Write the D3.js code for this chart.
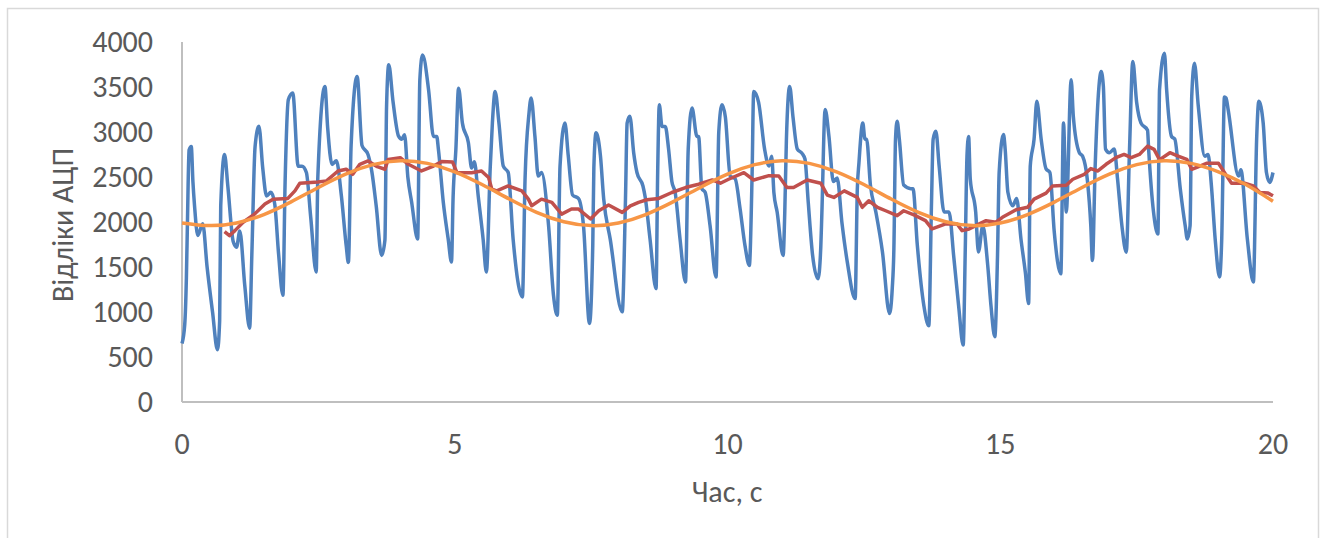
<!DOCTYPE html>
<html>
<head>
<meta charset="utf-8">
<script src="https://cdn.jsdelivr.net/npm/d3@7"></script>
<style>
  body { margin: 0; background: #fff; }
  text { font-family: Carlito, Calibri, "Open Sans", sans-serif; fill: #595959; }
</style>
</head>
<body>
<div id="chart"></div>
<script>
var w = 1325;
var h = 538;

// ADC samples [time, value]
var signalPoints = [
  [0.00,650],[0.05,860],[0.08,1370],[0.10,2000],[0.13,2800],[0.17,2840],[0.20,2450],[0.23,2180],[0.29,1850],[0.38,1980],[0.46,1500],[0.56,1000],[0.65,580],
  [0.69,900],[0.71,2180],[0.78,2750],[0.84,2400],[0.94,1780],[1.00,1720],[1.06,1900],[1.15,1300],[1.24,820],
  [1.28,1630],[1.34,2840],[1.41,3064],[1.48,2600],[1.55,2290],[1.63,2330],[1.70,2200],[1.77,1650],[1.85,1186],
  [1.89,2440],[1.95,3360],[2.03,3433],[2.13,2620],[2.20,2620],[2.28,2550],[2.36,2050],[2.46,1444],
  [2.49,2500],[2.62,3506],[2.67,3050],[2.75,2640],[2.83,2680],[2.92,2300],[3.01,1738],[3.05,1550],
  [3.10,2850],[3.21,3617],[3.30,2850],[3.41,2750],[3.48,2560],[3.56,2180],[3.66,1628],
  [3.72,1800],[3.75,3285],[3.79,3746],[3.87,3330],[3.97,2954],[4.03,2920],[4.08,2970],[4.14,2500],[4.21,2220],[4.32,1812],
  [4.36,3580],[4.41,3856],[4.52,3470],[4.61,2950],[4.67,2950],[4.70,2810],[4.79,2220],[4.88,1810],[4.94,1555],
  [4.97,2280],[5.02,2800],[5.07,3487],[5.14,3100],[5.25,2880],[5.31,2600],[5.36,2670],[5.43,2290],[5.52,1810],[5.58,1444],
  [5.65,2600],[5.69,3100],[5.74,3451],[5.81,3100],[5.89,2620],[5.98,2550],[6.07,1810],[6.24,1168],
  [6.29,2500],[6.36,3200],[6.40,3378],[6.47,2950],[6.53,2510],[6.59,2550],[6.72,1960],[6.81,1186],[6.88,965],
  [6.93,2620],[7.02,3101],[7.08,2740],[7.16,2300],[7.27,2260],[7.36,1960],[7.47,873],
  [7.53,1740],[7.55,2600],[7.59,2991],[7.67,2740],[7.73,2260],[7.85,1810],[8.07,1002],
  [8.13,2260],[8.16,3100],[8.21,3175],[8.28,2770],[8.34,2550],[8.45,2400],[8.49,2280],[8.58,1810],[8.69,1260],
  [8.72,2550],[8.75,3304],[8.80,3060],[8.86,3060],[8.92,2810],[8.98,2450],[9.04,2330],[9.13,1810],[9.23,1333],
  [9.28,2810],[9.35,3267],[9.44,2950],[9.47,2950],[9.53,2370],[9.59,2330],[9.68,1960],[9.79,1389],
  [9.84,3000],[9.90,3304],[9.96,3170],[10.05,2510],[10.14,2480],[10.23,2150],[10.32,1740],[10.40,1518],
  [10.45,2500],[10.48,3451],[10.57,3330],[10.68,2810],[10.76,2622],[10.81,2730],[10.85,2330],[10.91,2110],[11.02,1628],
  [11.05,2110],[11.08,2920],[11.14,3506],[11.20,3170],[11.28,2810],[11.37,2760],[11.42,2700],[11.48,2220],[11.56,1630],[11.66,1370],
  [11.71,1720],[11.73,2100],[11.79,3249],[11.86,2950],[11.94,2450],[12.01,2490],[12.10,1980],[12.20,1540],[12.34,1149],
  [12.38,2370],[12.41,2660],[12.48,3101],[12.52,2920],[12.55,2920],[12.62,2410],[12.72,2110],[12.84,1670],[12.97,983],
  [13.02,1260],[13.05,1700],[13.08,2920],[13.11,3120],[13.15,2920],[13.23,2410],[13.36,2370],[13.40,2370],[13.48,1740],[13.60,1070],[13.69,847],
  [13.74,2220],[13.77,2920],[13.82,3009],[13.88,2620],[13.97,2110],[14.06,2110],[14.15,1600],[14.24,1050],[14.32,633],
  [14.36,1740],[14.39,2730],[14.42,2950],[14.45,2480],[14.55,2110],[14.60,1667],[14.68,1960],[14.77,1520],[14.83,1070],[14.90,726],
  [14.95,1630],[14.98,2550],[15.06,2972],[15.09,2810],[15.14,2330],[15.23,2180],[15.30,2260],[15.38,1810],[15.46,1440],[15.52,1094],
  [15.55,2620],[15.62,2920],[15.67,3341],[15.75,2920],[15.84,2590],[15.91,2550],[15.99,1890],[16.11,1425],
  [16.16,3100],[16.21,2110],[16.30,3580],[16.34,3170],[16.45,2770],[16.51,2730],[16.60,2450],[16.66,1960],[16.69,1573],
  [16.74,2620],[16.81,3510],[16.85,3672],[16.89,3510],[16.93,2810],[17.00,2770],[17.09,2810],[17.15,2480],[17.23,1960],[17.31,1665],
  [17.37,2810],[17.43,3783],[17.50,3330],[17.58,3100],[17.70,3020],[17.72,2810],[17.81,2110],[17.89,1867],
  [17.92,3470],[18.01,3875],[18.05,3470],[18.14,2950],[18.20,2920],[18.30,2370],[18.39,1960],[18.43,1812],
  [18.48,1960],[18.51,3390],[18.56,3765],[18.63,3290],[18.75,2730],[18.81,2750],[18.87,2410],[18.94,1810],[19.02,1389],
  [19.06,1810],[19.11,3390],[19.14,3378],[19.18,3240],[19.37,2510],[19.41,2580],[19.53,1810],[19.64,1333],
  [19.70,2920],[19.74,3341],[19.82,3100],[19.88,2550],[19.94,2440],[20.00,2550]
];

// moving average (red)
var averagePoints = [
  [0.78,1893],[0.87,1849],[0.97,1904],[1.12,1997],[1.33,2088],[1.52,2199],[1.67,2254],[1.94,2262],[2.07,2346],[2.16,2431],
  [2.49,2445],[2.65,2457],[2.86,2567],[3.01,2586],[3.13,2530],[3.26,2641],[3.41,2678],[3.58,2615],[3.72,2586],[3.78,2696],
  [4.00,2715],[4.15,2641],[4.39,2567],[4.61,2622],[4.76,2671],[4.96,2666],[5.04,2548],[5.31,2548],[5.49,2567],[5.62,2494],
  [5.68,2365],[5.77,2346],[5.98,2401],[6.23,2346],[6.35,2254],[6.41,2180],[6.59,2254],[6.78,2218],[6.96,2088],[7.14,2144],
  [7.27,2144],[7.49,2033],[7.64,2125],[7.82,2188],[8.07,2107],[8.22,2180],[8.37,2218],[8.52,2247],[8.74,2262],[8.98,2328],
  [9.23,2383],[9.47,2420],[9.72,2467],[9.87,2431],[10.02,2475],[10.30,2548],[10.48,2467],[10.76,2515],[10.94,2512],[11.09,2383],
  [11.21,2383],[11.46,2467],[11.71,2431],[11.83,2298],[11.95,2273],[12.14,2346],[12.38,2273],[12.47,2163],[12.59,2236],[12.75,2163],
  [12.90,2125],[13.11,2070],[13.23,2125],[13.45,2070],[13.63,2015],[13.75,1923],[14.00,1978],[14.21,1978],[14.30,1904],[14.43,1923],
  [14.55,1960],[14.74,2015],[14.92,1997],[15.04,2052],[15.29,2136],[15.50,2163],[15.62,2254],[15.84,2321],[15.96,2401],[16.21,2409],
  [16.33,2475],[16.54,2530],[16.66,2593],[16.79,2567],[16.94,2641],[17.12,2715],[17.27,2751],[17.40,2715],[17.55,2751],[17.70,2843],
  [17.82,2807],[17.90,2715],[17.93,2696],[18.11,2770],[18.26,2733],[18.42,2696],[18.51,2586],[18.66,2622],[18.78,2652],[19.00,2652],
  [19.15,2512],[19.24,2431],[19.48,2431],[19.64,2401],[19.76,2328],[19.91,2321],[20.00,2291]
];

// fitted sine trend (orange), every 0.5 s
var trendTime = [0,0.5,1,1.5,2,2.5,3,3.5,4,4.5,5,5.5,6,6.5,7,7.5,8,8.5,9,9.5,10,
  10.5,11,11.5,12,12.5,13,13.5,14,14.5,15,15.5,16,16.5,17,17.5,18,18.5,19,19.5,20];
var trendValue = [1990,1960,1989,2083,2224,2384,2532,2637,2680,2651,2557,2416,2256,2108,2003,1960,1989,2083,2224,2384,2532,
  2637,2680,2651,2557,2416,2256,2108,2003,1960,1989,2083,2224,2384,2532,2637,2680,2651,2557,2416,2230];

var xTicks = [0, 5, 10, 15, 20];
var yTicks = [0, 500, 1000, 1500, 2000, 2500, 3000, 3500, 4000];

var svg = d3.select("#chart")
  .append("svg")
  .attr("width", w)
  .attr("height", h);

// outer chart border
svg.append("rect")
  .attr("x", 7.5)
  .attr("y", 8.5)
  .attr("width", 1311)
  .attr("height", 560)
  .attr("fill", "none")
  .attr("stroke", "#d9d9d9")
  .attr("stroke-width", 1.5);

var x = d3.scaleLinear().domain([0, 20]).range([182, 1273]);
var y = d3.scaleLinear().domain([0, 4000]).range([402, 42]);

// axes lines
svg.append("line")
  .attr("x1", x(0)).attr("x2", x(0))
  .attr("y1", y(4000)).attr("y2", y(0))
  .attr("stroke", "#bfbfbf").attr("stroke-width", 2);

svg.append("line")
  .attr("x1", x(0)).attr("x2", x(20))
  .attr("y1", y(0)).attr("y2", y(0))
  .attr("stroke", "#bfbfbf").attr("stroke-width", 2);

svg.selectAll(".ylab")
  .data(yTicks)
  .enter()
  .append("text")
  .attr("class", "ylab")
  .attr("x", 153)
  .attr("y", d => y(d))
  .attr("dy", "0.34em")
  .attr("text-anchor", "end")
  .style("font-size", "30px")
  .text(d => d);

svg.selectAll(".xlab")
  .data(xTicks)
  .enter()
  .append("text")
  .attr("class", "xlab")
  .attr("x", d => x(d))
  .attr("y", 454)
  .attr("text-anchor", "middle")
  .style("font-size", "30px")
  .text(d => d);

svg.append("text")
  .attr("transform", "translate(73,225) rotate(-90)")
  .attr("text-anchor", "middle")
  .style("font-size", "30px")
  .text("Відліки АЦП");

svg.append("text")
  .attr("x", 727)
  .attr("y", 502)
  .attr("text-anchor", "middle")
  .style("font-size", "30px")
  .text("Час, с");

var signalLine = d3.line()
  .x(d => x(d[0]))
  .y(d => y(d[1]))
  .curve(d3.curveMonotoneX);

var avgLine = d3.line()
  .x(d => x(d[0]))
  .y(d => y(d[1]));

var trendLine = d3.line()
  .x((d, i) => x(trendTime[i]))
  .y(d => y(d))
  .curve(d3.curveNatural);

svg.append("path")
  .datum(signalPoints)
  .attr("d", signalLine)
  .attr("fill", "none")
  .attr("stroke", "#4f81bd")
  .attr("stroke-width", 3.5)
  .attr("stroke-linejoin", "round");

svg.append("path")
  .datum(averagePoints)
  .attr("d", avgLine)
  .attr("fill", "none")
  .attr("stroke", "#c0504d")
  .attr("stroke-width", 3.5)
  .attr("stroke-linejoin", "round");

svg.append("path")
  .datum(trendValue)
  .attr("d", trendLine)
  .attr("fill", "none")
  .attr("stroke", "#f79646")
  .attr("stroke-width", 3.5);
</script>
</body>
</html>
